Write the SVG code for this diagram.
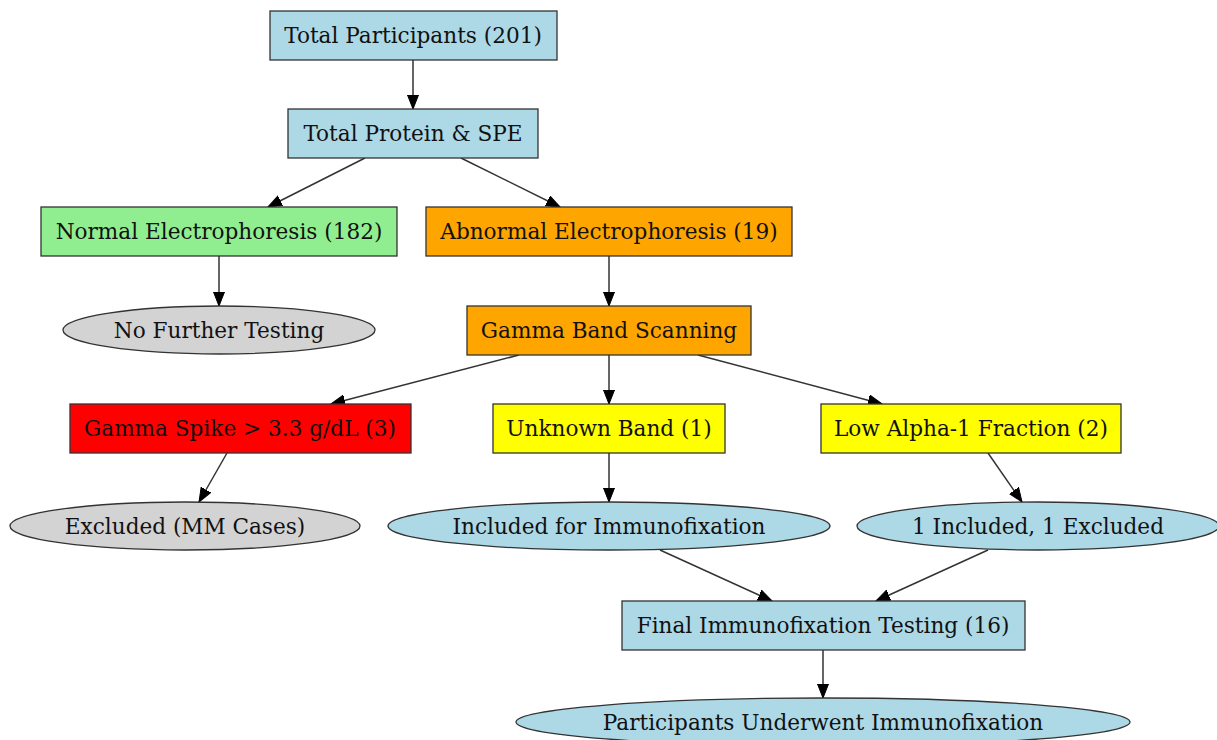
<svg xmlns="http://www.w3.org/2000/svg" width="1217" height="740" viewBox="0 0 1217 740">
<defs>
<style>
.n{stroke:#333;stroke-width:1.3}
.blue{fill:#ADD8E6}.green{fill:#90EE90}.orange{fill:#FFA500}.red{fill:#FF0000}.yellow{fill:#FFFF00}.gray{fill:#D3D3D3}
text{font-family:"DejaVu Serif",serif;font-size:21.6px;fill:#111;text-anchor:middle;dominant-baseline:central}
.e{stroke:#333;stroke-width:1.5;fill:none;marker-end:url(#ah)}
</style>
<marker id="ah" markerUnits="userSpaceOnUse" markerWidth="16" markerHeight="12" refX="14" refY="6" orient="auto">
<path d="M0,0.5 L14,6 L0,11.5 Z" fill="#000" stroke="#000" stroke-width="1"/>
</marker>
</defs>
<rect width="1217" height="740" fill="#fff"/>
<g id="connectors">
<line class="e" x1="413" y1="60" x2="413" y2="109"/>
<line class="e" x1="365" y1="158" x2="268" y2="207"/>
<line class="e" x1="461" y1="158" x2="560" y2="207"/>
<line class="e" x1="219" y1="256" x2="219" y2="306"/>
<line class="e" x1="609" y1="256" x2="609" y2="306"/>
<line class="e" x1="519" y1="355" x2="331" y2="404"/>
<line class="e" x1="609" y1="355" x2="609" y2="404"/>
<line class="e" x1="698" y1="355" x2="882" y2="404"/>
<line class="e" x1="227" y1="453" x2="199" y2="502"/>
<line class="e" x1="609" y1="453" x2="609" y2="502"/>
<line class="e" x1="988" y1="453" x2="1022" y2="502"/>
<line class="e" x1="660" y1="550" x2="772" y2="601"/>
<line class="e" x1="988" y1="550" x2="876" y2="601"/>
<line class="e" x1="823" y1="650" x2="823" y2="698"/>
</g>
<g id="total"><rect class="n blue" x="270" y="11" width="287" height="49"/><text x="413" y="35">Total Participants (201)</text></g>
<g id="protein"><rect class="n blue" x="288" y="109" width="250" height="49"/><text x="413" y="133">Total Protein &amp; SPE</text></g>
<g id="normal"><rect class="n green" x="41" y="207" width="356" height="49"/><text x="219" y="231">Normal Electrophoresis (182)</text></g>
<g id="abnormal"><rect class="n orange" x="426" y="207" width="366" height="49"/><text x="609" y="231">Abnormal Electrophoresis (19)</text></g>
<g id="nofurther"><ellipse class="n gray" cx="219" cy="330" rx="156" ry="24"/><text x="219" y="330">No Further Testing</text></g>
<g id="gamma"><rect class="n orange" x="467" y="306" width="284" height="49"/><text x="609" y="330">Gamma Band Scanning</text></g>
<g id="spike"><rect class="n red" x="70" y="404" width="341" height="49"/><text x="240" y="428">Gamma Spike &gt; 3.3 g/dL (3)</text></g>
<g id="unknown"><rect class="n yellow" x="493" y="404" width="232" height="49"/><text x="609" y="428">Unknown Band (1)</text></g>
<g id="lowalpha"><rect class="n yellow" x="821" y="404" width="300" height="49"/><text x="971" y="428">Low Alpha-1 Fraction (2)</text></g>
<g id="excluded"><ellipse class="n gray" cx="185" cy="526" rx="175" ry="24"/><text x="185" y="526">Excluded (MM Cases)</text></g>
<g id="included"><ellipse class="n blue" cx="609" cy="526" rx="221" ry="24"/><text x="609" y="526">Included for Immunofixation</text></g>
<g id="mixed"><ellipse class="n blue" cx="1038" cy="526" rx="181" ry="24"/><text x="1038" y="526">1 Included, 1 Excluded</text></g>
<g id="final"><rect class="n blue" x="622" y="601" width="403" height="49"/><text x="823" y="625">Final Immunofixation Testing (16)</text></g>
<g id="underwent"><ellipse class="n blue" cx="823" cy="722" rx="307" ry="24"/><text x="823" y="722">Participants Underwent Immunofixation</text></g>
</svg>
